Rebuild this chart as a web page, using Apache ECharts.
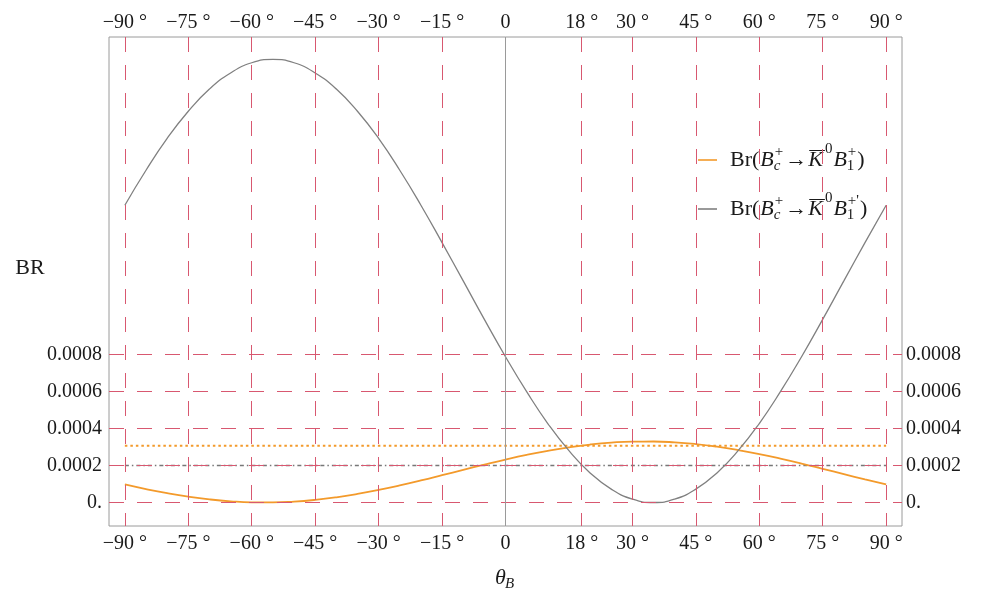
<!DOCTYPE html>
<html><head><meta charset="utf-8">
<script src="https://cdn.jsdelivr.net/npm/echarts@6/dist/echarts.min.js"></script>
<style>html,body{margin:0;padding:0;background:#fff}#c{width:984px;height:590px}</style>
</head><body><div id="c"></div>
<script>
// ---- data ----
const xTicks = [-90, -75, -60, -45, -30, -15, 0, 18, 30, 45, 60, 75, 90];
const yTicks = [0, 0.0002, 0.0004, 0.0006, 0.0008];
const thetaB = [-90,-85,-80,-75,-70,-65,-60,-55,-50,-45,-40,-35,-30,-25,-20,-15,-10,-5,0,5,10,15,20,25,30,35,40,45,50,55,60,65,70,75,80,85,90];
const brB1 = [0.0000979,0.0000727,0.0000504,0.0000315,0.0000167,0.0000064,0.0000009,0.0000004,0.0000049,0.0000143,0.0000282,0.0000463,0.0000680,0.0000927,0.0001195,0.0001478,0.0001765,0.0002049,0.0002321,0.0002573,0.0002796,0.0002985,0.0003133,0.0003236,0.0003291,0.0003296,0.0003251,0.0003157,0.0003018,0.0002837,0.0002620,0.0002373,0.0002105,0.0001822,0.0001535,0.0001251,0.0000979];
const brB1p = [0.001607,0.001796,0.001968,0.002115,0.002235,0.002322,0.002377,0.002395,0.002377,0.002322,0.002235,0.002115,0.001968,0.001796,0.001607,0.001405,0.001198,0.000990,0.000788,0.000599,0.000427,0.000280,0.000160,0.0000722,0.0000182,0,0.0000182,0.0000722,0.000160,0.000280,0.000427,0.000599,0.000788,0.000990,0.001198,0.001405,0.001607];
const refB1 = 0.000307;   // orange dotted level
const refB1p = 0.0002;    // gray dot-dashed level

// ---- styling ----
const ORANGE = '#f39a2b', GRAY = '#808080', RED = 'rgb(216,88,112)';
const FONT = '"Liberation Serif", "Times New Roman", serif';
const X_MIN = -93.75, X_MAX = 93.75, Y_MIN = -0.00012703, Y_MAX = 0.00251621;

const xLabelFmt = v => v === 0 ? '0' : (v < 0 ? '\u2212' + (-v) : '' + v) + ' \u00b0';
const yLabelFmt = v => v === 0 ? '0.' : v.toFixed(4);

const xAxisBase = (pos) => ({
  type: 'value', position: pos, min: X_MIN, max: X_MAX,
  axisLine: {show: false, onZero: false}, splitLine: {show: false},
  axisTick: {show: false, customValues: xTicks},
  axisLabel: {customValues: xTicks, formatter: xLabelFmt, color: '#1a1a1a',
    fontFamily: FONT, fontSize: 20, margin: pos === 'top' ? 4 : 8, showMinLabel: true, showMaxLabel: true}
});
const yAxisBase = (pos) => ({
  type: 'value', position: pos, min: Y_MIN, max: Y_MAX,
  axisLine: {show: false, onZero: false}, splitLine: {show: false},
  axisTick: {show: true, inside: true, length: 6, customValues: yTicks, lineStyle: {color: '#999'}},
  axisLabel: {customValues: yTicks, formatter: yLabelFmt, color: '#1a1a1a',
    fontFamily: FONT, fontSize: 20, margin: pos === 'left' ? 7 : 4}
});

// ---- legend / labels as text ----
const cv = document.createElement('canvas').getContext('2d');
function tw(t, f) { cv.font = f; return cv.measureText(t).width; }
const F = '22px ' + FONT, FI = 'italic 22px ' + FONT, S = '15px ' + FONT, SI = 'italic 15px ' + FONT;
const graphics = [];
function txt(t, f, x, y, align) {
  graphics.push({type: 'text', silent: true, style: {text: t, x: x, y: y, font: f, fill: '#1a1a1a',
    align: align || 'left', verticalAlign: 'middle', textAlign: align || 'left', textVerticalAlign: 'middle'}});
  return tw(t, f);
}
function legendEntry(yc, color, prime) {
  graphics.push({type: 'line', silent: true, shape: {x1: 698, y1: yc, x2: 717, y2: yc}, style: {stroke: color, lineWidth: 1.6}});
  let x = 730;
  x += txt('Br(', F, x, yc) + 1;
  x += txt('B', FI, x, yc);
  let a = txt('+', S, x + 1, yc - 8), b = txt('c', SI, x, yc + 6);
  x += Math.max(a + 1, b) + 2;
  x += txt('\u2192', F, x, yc) + 1;
  const kw = txt('K', FI, x, yc);
  graphics.push({type: 'line', silent: true, shape: {x1: x + 1, y1: yc - 9.5, x2: x + kw + 2, y2: yc - 9.5}, style: {stroke: '#1a1a1a', lineWidth: 1}});
  x += kw + 2;
  x += txt('0', S, x, yc - 11) + 1;
  x += txt('B', FI, x, yc);
  a = txt(prime ? "+'" : '+', S, x + 1, yc - 8); b = txt('1', S, x, yc + 6);
  x += Math.max(a + 1, b) + 1;
  txt(')', F, x, yc);
}
legendEntry(160, ORANGE, false);
legendEntry(209, GRAY, true);
txt('BR', F, 30, 268, 'center');
txt('\u03b8', FI, 495, 578);
txt('B', SI, 505, 584);

const vLines = xTicks.filter(v => v !== 0).map(v => [{coord: [v, Y_MAX]}, {coord: [v, Y_MIN]}]);
const hLines = yTicks.map(v => [{coord: [X_MIN, v]}, {coord: [X_MAX, v]}]);

const chart = echarts.init(document.getElementById('c'), null, {renderer: 'canvas'});
chart.setOption({
  animation: false,
  backgroundColor: '#fff',
  grid: {left: 109, right: 82, top: 37, bottom: 64, show: true, borderColor: '#9a9a9a', borderWidth: 1, backgroundColor: 'transparent'},
  xAxis: [xAxisBase('bottom'), xAxisBase('top')],
  yAxis: [yAxisBase('left'), yAxisBase('right')],
  graphic: graphics,
  series: [
    {type: 'line', data: [], z: 1, silent: true,
      markLine: {silent: true, symbol: 'none', label: {show: false}, animation: false,
        lineStyle: {color: RED, type: [15, 13], width: 1},
        data: vLines.concat(hLines)}},
    {type: 'line', data: [], z: 2, silent: true,
      markLine: {silent: true, symbol: 'none', label: {show: false}, animation: false,
        lineStyle: {color: '#9a9a9a', type: 'solid', width: 1},
        data: [[{coord: [0, Y_MIN]}, {coord: [0, Y_MAX]}]]}},
    {type: 'line', name: 'refB1', z: 3, silent: true, showSymbol: false,
      data: [[thetaB[0], refB1], [thetaB[thetaB.length - 1], refB1]],
      lineStyle: {color: ORANGE, width: 2, type: [2.5, 3]}},
    {type: 'line', name: 'refB1p', z: 3, silent: true, showSymbol: false,
      data: [[thetaB[0], refB1p], [thetaB[thetaB.length - 1], refB1p]],
      lineStyle: {color: '#777', width: 1.6, type: [4, 3, 1.5, 3]}},
    {type: 'line', name: 'B1', z: 4, smooth: true, showSymbol: false,
      data: thetaB.map((t, i) => [t, brB1[i]]),
      lineStyle: {color: ORANGE, width: 1.8}},
    {type: 'line', name: 'B1p', z: 4, smooth: true, showSymbol: false,
      data: thetaB.map((t, i) => [t, brB1p[i]]),
      lineStyle: {color: GRAY, width: 1.3}}
  ]
});
</script></body></html>
